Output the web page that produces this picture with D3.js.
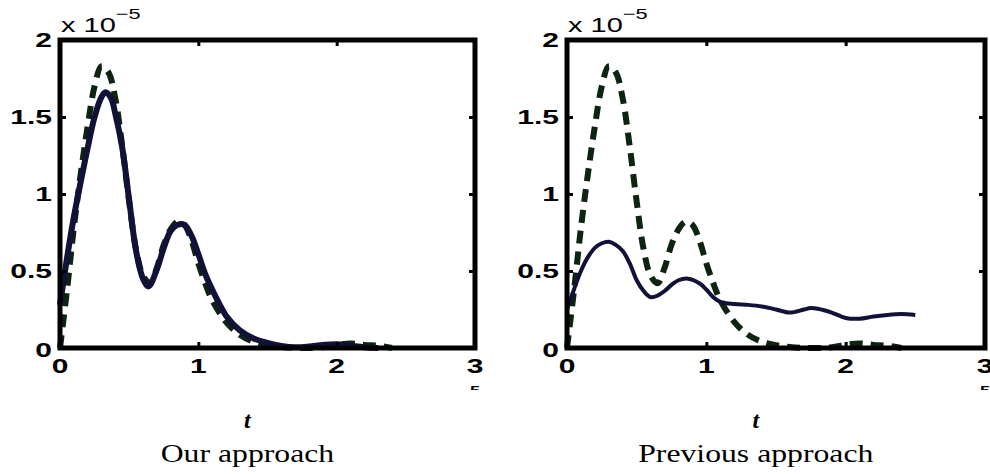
<!DOCTYPE html>
<html>
<head>
<meta charset="utf-8">
<script src="https://cdn.jsdelivr.net/npm/d3@7"></script>
<style>
body{margin:0;background:#fff;}
svg{display:block;}
</style>
</head>
<body>
<div id="root"></div>
<script>
// values in units of 1e-5
var tTrue=[0,0.05,0.1,0.15,0.2,0.25,0.3,0.35,0.4,0.45,0.5,0.55,0.6,0.65,0.7,0.75,0.8,0.85,0.9,0.95,1.0,1.05,1.1,1.2,1.3,1.4,1.5,1.6,1.7,1.8,1.9,2.0,2.1,2.2,2.3,2.4];
var trueVals=[0,0.37,0.78,1.13,1.44,1.70,1.83,1.79,1.62,1.31,0.95,0.64,0.47,0.42,0.52,0.67,0.77,0.82,0.80,0.70,0.55,0.42,0.31,0.17,0.085,0.04,0.018,0.006,0,0,0.005,0.02,0.03,0.02,0.015,0];

var tOurs=[0,0.05,0.1,0.15,0.2,0.25,0.3,0.33,0.37,0.4,0.45,0.5,0.55,0.6,0.64,0.7,0.75,0.8,0.85,0.9,0.95,1.0,1.05,1.1,1.15,1.2,1.3,1.4,1.5,1.6,1.7,1.8,1.9,2.0,2.1,2.2,2.3];
var oursVals=[0.28,0.58,0.85,1.08,1.30,1.50,1.63,1.66,1.62,1.52,1.30,0.96,0.63,0.45,0.40,0.51,0.65,0.76,0.80,0.80,0.73,0.61,0.48,0.38,0.29,0.21,0.115,0.062,0.033,0.014,0.005,0.01,0.02,0.025,0.015,0.005,0];

var tPrev=[0,0.05,0.1,0.15,0.2,0.25,0.3,0.35,0.4,0.45,0.5,0.55,0.6,0.65,0.7,0.75,0.8,0.87,0.95,1.0,1.05,1.1,1.2,1.3,1.4,1.5,1.6,1.7,1.75,1.8,1.9,2.0,2.1,2.2,2.3,2.4,2.5];
var prevVals=[0.25,0.38,0.50,0.59,0.65,0.68,0.69,0.67,0.63,0.55,0.44,0.37,0.33,0.34,0.37,0.41,0.44,0.45,0.42,0.38,0.33,0.30,0.285,0.28,0.27,0.25,0.23,0.25,0.26,0.255,0.23,0.195,0.19,0.205,0.215,0.22,0.215];

var xTicks=[0,1,2,3];
var yTicks=[0,0.5,1,1.5,2];
var yTickLabels=['0','0.5','1','1.5','2'];
var titles=['Our approach','Previous approach'];

var W=990,H=474;
var svg=d3.select('#root').append('svg').attr('width',W).attr('height',H);

svg.append('defs').append('clipPath').attr('id','cut')
	.append('rect').attr('x',0).attr('y',0).attr('width',W).attr('height',390);

var panels=[
	{x0:60,x1:475,est:{t:tOurs,v:oursVals},ew:6,title:titles[0]},
	{x0:567,x1:985,est:{t:tPrev,v:prevVals},ew:4,title:titles[1]}
];
var yTop=40,yBot=348;

function zip(t,v){return t.map(function(d,i){return {t:d,v:v[i]}})}

panels.forEach(function(p){
	var x=d3.scaleLinear().domain([0,3]).range([p.x0,p.x1]);
	var y=d3.scaleLinear().domain([0,2]).range([yBot,yTop]);
	var g=svg.append('g');

	var line=d3.line().x(function(d){return x(d.t)}).y(function(d){return y(d.v)})
		.curve(d3.curveCatmullRom.alpha(0.5));

	g.append('path').attr('d',line(zip(tTrue,trueVals)))
		.attr('fill','none').attr('stroke','#0c2410').attr('stroke-width',6)
		.attr('stroke-dasharray','13,8');
	g.append('path').attr('d',line(zip(p.est.t,p.est.v)))
		.attr('fill','none').attr('stroke','#121238').attr('stroke-width',p.ew)
		.attr('stroke-linejoin','round');

	// inner ticks on all sides
	var noLab=function(){return ''};
	g.append('g').attr('transform','translate(0,'+yBot+')').call(d3.axisBottom(x).tickValues([1,2]).tickSize(-6).tickFormat(noLab));
	g.append('g').attr('transform','translate(0,'+yTop+')').call(d3.axisTop(x).tickValues([1,2]).tickSize(-6).tickFormat(noLab));
	g.append('g').attr('transform','translate('+p.x0+',0)').call(d3.axisLeft(y).tickValues([0.5,1,1.5]).tickSize(-6).tickFormat(noLab));
	g.append('g').attr('transform','translate('+p.x1+',0)').call(d3.axisRight(y).tickValues([0.5,1,1.5]).tickSize(-6).tickFormat(noLab));
	g.selectAll('.domain').remove();
	g.selectAll('.tick line').attr('stroke','#000').attr('stroke-width',3);

	g.append('rect').attr('x',p.x0).attr('y',yTop).attr('width',p.x1-p.x0).attr('height',yBot-yTop)
		.attr('fill','none').attr('stroke','#000').attr('stroke-width',5);

	var font='"Liberation Sans", Arial, sans-serif';
	g.selectAll('.xlab').data(xTicks).enter().append('text')
		.attr('transform',function(d){return 'translate('+x(d)+',373) scale(1.5,1)'})
		.attr('text-anchor','middle').style('font-family',font).style('font-weight','bold')
		.style('font-size','20px').attr('fill','#000').text(function(d){return d});

	g.selectAll('.ylab').data(yTicks).enter().append('text')
		.attr('transform',function(d){return 'translate('+(p.x0-8)+','+(y(d)+(d==0?9:7))+') scale(1.5,1)'})
		.attr('text-anchor','end').style('font-family',font).style('font-weight','bold')
		.style('font-size','20px').attr('fill','#000').text(function(d,i){return yTickLabels[i]});

	// exponent label
	var ex=g.append('text').attr('transform','translate('+(p.x0+1)+',32) scale(1.45,1)')
		.style('font-family',font).style('font-size','20px').attr('fill','#000');
	ex.append('tspan').text('x 10');
	ex.append('tspan').attr('dy',-13).style('font-size','15px').text('\u22125');

	// cut-off glyph under the last tick
	g.append('g').attr('clip-path','url(#cut)').append('text')
		.attr('transform','translate('+x(3)+',395) scale(1.4,1)')
		.attr('text-anchor','middle').style('font-family',font).style('font-weight','bold')
		.style('font-size','13px').text('5');

	var cx=x(1.355);
	g.append('text').attr('x',cx).attr('y',428).attr('text-anchor','middle')
		.style('font-family','"Liberation Serif", serif').style('font-style','italic').style('font-weight','bold')
		.style('font-size','24px').text('t');
	g.append('text').attr('transform','translate('+cx+',462) scale(1.22,1)').attr('text-anchor','middle')
		.style('font-family','"Liberation Serif", serif').style('font-size','26px').text(p.title);
});
</script>
</body>
</html>
